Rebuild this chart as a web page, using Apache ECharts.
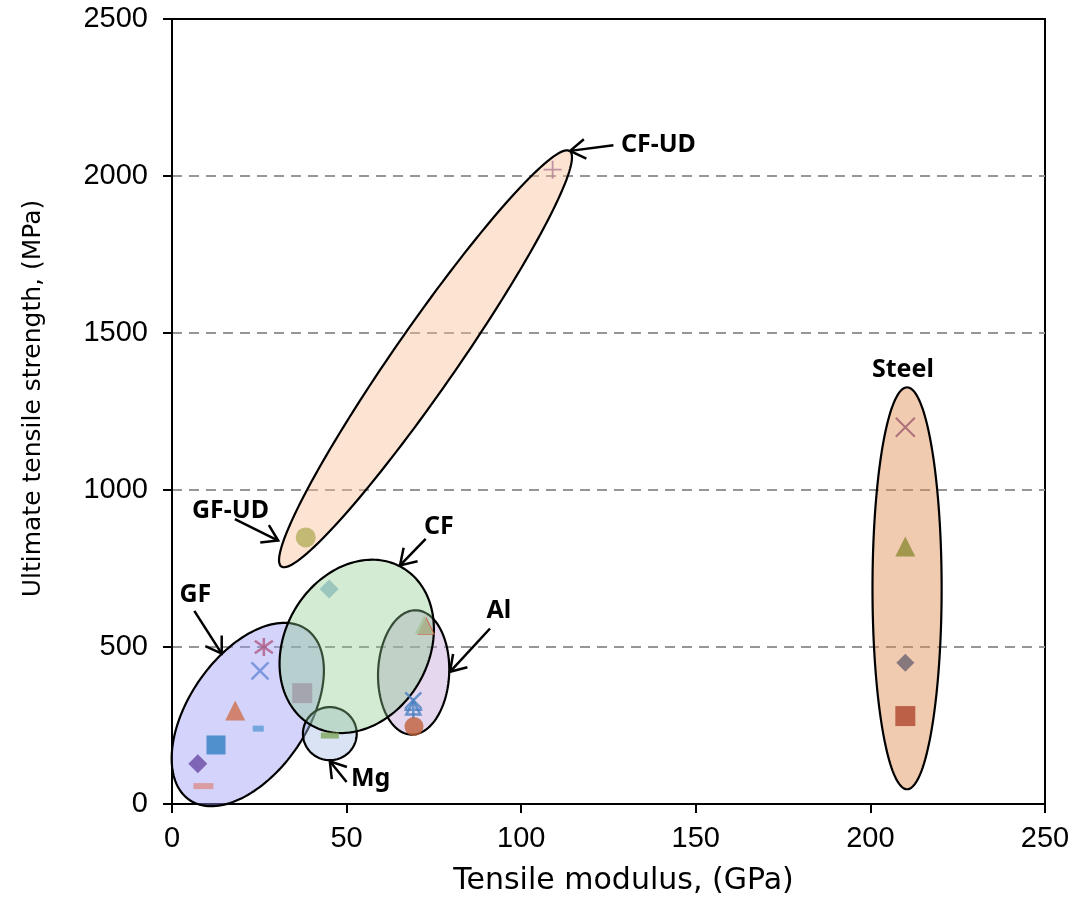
<!DOCTYPE html>
<html><head><meta charset="utf-8">
<script src="https://cdn.jsdelivr.net/npm/echarts@6/dist/echarts.min.js"></script>
<style>html,body{margin:0;padding:0;background:#fff}#c{width:1074px;height:901px}</style>
</head><body><div id="c"></div>
<script>
// ---- axis ticks ----
const xTicks = [0, 50, 100, 150, 200, 250];
const yTicks = [0, 500, 1000, 1500, 2000, 2500];

// ---- material markers (Tensile modulus GPa, UTS MPa) ----
const markerNames = ['GF-1','GF-2','GF-3','GF-4','GF-5','GF-6','GF-7','GF-8',
  'CF-1','Mg-1','Al-red','Al-1','Al-2','Al-3','Al-4','Al-5',
  'Steel-1','Steel-2','Steel-3','Steel-4','CF-UD','GF-UD'];
const markerX = [7.4, 9.0, 12.6, 24.7, 18.1, 25.2, 26.3, 37.3,
  45.0, 45.2, 72.8, 72.2, 69.1, 69.1, 69.1, 69.3,
  210, 210, 210, 210, 109, 38.3];
const markerY = [128, 57, 188, 240, 298, 424, 500, 353,
  685, 218, 568, 572, 330, 307, 300, 247,
  1200, 820, 450, 280, 2020, 849];

// ---- envelope ellipses (data units) ----
const ellipseNames = ['CF-UD','GF','Mg','Al','Steel','CF'];
const ellipseCx  = [72.6, 21.7, 45.2, 69.2, 210.5, 52.9];
const ellipseCy  = [1418, 285, 224, 419, 687, 502];
const ellipseRx  = [41.95, 21.8, 7.7, 10.2, 9.9, 22.1];
const ellipseRy  = [664, 292, 84.5, 198, 640, 276];
const ellipseRho = [0.966, 0.48, 0, 0.05, 0, 0.2];

// ---- annotation labels and arrows (data units) ----
const labelNames = ['CF-UD','Steel','GF-UD','GF','CF','Al','Mg'];
const labelX = [139.3, 209.3, 16.75, 6.67, 76.4, 93.6, 56.9];
const labelY = [2098, 1381, 935, 665, 884, 615, 79];
const arrowFromX = [126.4, 18.0, 6.39, 72.65, 91.07, 50.0];
const arrowFromY = [2098, 907, 615, 844, 559, 70];
const arrowToX   = [114.0, 30.4, 14.23, 65.3, 79.6, 45.2];
const arrowToY   = [2080, 839, 479, 760, 421, 136];

// ---- styles ----
const P_X = 'path://M0,0L10,10M10,0L0,10';
const P_STAR = 'path://M0.5,1.5L9.5,8.5M9.5,1.5L0.5,8.5M5,0L5,10';
const P_PLUS = 'path://M5,0L5,10M0,5L10,5';
const markerStyle = [
  {s:'diamond', c:'#6a4aa5', z:19},
  {s:'rect', c:'#dc8f8c', z:[20,6]},
  {s:'rect', c:'#2f80c2', z:19},
  {s:'rect', c:'#5b9bd5', z:[11,6]},
  {s:'triangle', c:'#d0704c', z:20},
  {s:P_X, c:'#6688d8', z:17, line:2.5},
  {s:P_STAR, c:'#b05a84', z:18, line:2.5},
  {s:'rect', c:'#9f9aa6', z:20},
  {s:'diamond', c:'#8dbdb9', z:19},
  {s:'rect', c:'#7ea55a', z:[18,6]},
  {s:'triangle', c:'#c8563a', z:18},
  {s:'triangle', c:'#a6c39c', z:19},
  {s:P_X, c:'#4a7fc0', z:16, line:2.5},
  {s:'triangle', c:'#4a7fc0', z:14, open:true, line:2.5},
  {s:P_PLUS, c:'#4a7fc0', z:18, line:2.5},
  {s:'circle', c:'#c0603a', z:19},
  {s:P_X, c:'#9e5a6e', z:19, line:2},
  {s:'triangle', c:'#8d8a35', z:20},
  {s:'diamond', c:'#6b6370', z:18},
  {s:'rect', c:'#b0452e', z:20},
  {s:P_PLUS, c:'#b07e96', z:18, line:1.8},
  {s:'circle', c:'#b5ae5c', z:20}
];
const ellipseFills = ['rgba(250,188,148,0.42)','rgba(150,150,245,0.42)','rgba(160,185,225,0.4)',
  'rgba(190,160,215,0.42)','rgba(222,140,80,0.45)','rgba(140,200,140,0.38)'];

const chart = echarts.init(document.getElementById('c'), null, {renderer:'canvas'});

function ellipseItem(params, api) {
  const cx = api.value(0), cy = api.value(1), rx = api.value(2), ry = api.value(3), rho = api.value(4);
  const phi = Math.acos(rho);
  const pts = [];
  const N = 160;
  for (let k = 0; k < N; k++) {
    const t = 2 * Math.PI * k / N;
    pts.push(api.coord([cx + rx * Math.cos(t), cy + ry * Math.cos(t + phi)]));
  }
  return {type:'polygon', shape:{points:pts},
    style:{fill: ellipseFills[params.dataIndex], stroke:'#000', lineWidth:2.2}};
}
function arrowItem(params, api) {
  const p1 = api.coord([api.value(0), api.value(1)]);
  const p2 = api.coord([api.value(2), api.value(3)]);
  const ang = Math.atan2(p2[1] - p1[1], p2[0] - p1[0]);
  const L = 18, a = Math.PI / 5.5;
  const h1 = [p2[0] - L * Math.cos(ang - a), p2[1] - L * Math.sin(ang - a)];
  const h2 = [p2[0] - L * Math.cos(ang + a), p2[1] - L * Math.sin(ang + a)];
  return {type:'group', children:[
    {type:'line', shape:{x1:p1[0], y1:p1[1], x2:p2[0], y2:p2[1]}, style:{stroke:'#000', lineWidth:2.5}},
    {type:'polyline', shape:{points:[h1, p2, h2]}, style:{stroke:'#000', lineWidth:2.5, fill:null}}
  ]};
}
function labelItem(params, api) {
  const p = api.coord([api.value(0), api.value(1)]);
  return {type:'text', x:p[0], y:p[1], style:{text: labelNames[params.dataIndex], fill:'#000',
    fontFamily:'"Noto Sans", "Open Sans", sans-serif', fontWeight:'bold', fontSize:25,
    align:'center', verticalAlign:'middle'}};
}

const series = [];
series.push({type:'custom', name:'envelopes', renderItem: ellipseItem, clip:false, silent:true, z:2,
  data: ellipseNames.map((n, i) => [ellipseCx[i], ellipseCy[i], ellipseRx[i], ellipseRy[i], ellipseRho[i]])});
markerNames.forEach((n, i) => {
  const st = markerStyle[i];
  const isPath = typeof st.s === 'string' && st.s.indexOf('path://') === 0;
  const stroke = isPath || st.open;
  series.push({type:'scatter', name:n, z:3, symbol: st.s, symbolSize: st.z,
    itemStyle: stroke ? {color:'rgba(0,0,0,0)', borderColor: st.c, borderWidth: st.line || 2}
                      : {color: st.c, borderWidth:0},
    data: [[markerX[i], markerY[i]]]});
});
series.push({type:'custom', name:'arrows', renderItem: arrowItem, clip:false, silent:true, z:4,
  data: arrowFromX.map((v, i) => [arrowFromX[i], arrowFromY[i], arrowToX[i], arrowToY[i]])});
series.push({type:'custom', name:'labels', renderItem: labelItem, clip:false, silent:true, z:5,
  data: labelNames.map((n, i) => [labelX[i], labelY[i]])});

chart.setOption({
  animation:false,
  backgroundColor:'#fff',
  grid:{left:172, right:29, top:19, bottom:93, show:true, borderColor:'#000', borderWidth:2, backgroundColor:'rgba(0,0,0,0)'},
  xAxis:{type:'value', min:xTicks[0], max:xTicks[xTicks.length-1], interval:xTicks[1]-xTicks[0],
    name:'Tensile modulus, (GPa)', nameLocation:'middle', nameGap:62,
    nameTextStyle:{fontFamily:'"DejaVu Sans"', fontSize:30, color:'#000', padding:[0,0,0,30]},
    axisLine:{show:true, onZero:false, lineStyle:{color:'#000', width:2}},
    axisTick:{show:true, inside:false, length:9, lineStyle:{color:'#000', width:2}},
    axisLabel:{fontFamily:'"Liberation Sans", Arial', fontSize:29, color:'#000', margin:20,
      formatter: v => xTicks.indexOf(v) >= 0 ? String(v) : ''},
    splitLine:{show:false}},
  yAxis:{type:'value', min:yTicks[0], max:yTicks[yTicks.length-1], interval:yTicks[1]-yTicks[0],
    name:'Ultimate tensile strength, (MPa)', nameLocation:'middle', nameGap:126,
    nameTextStyle:{fontFamily:'"DejaVu Sans"', fontSize:25, color:'#000', padding:[0,0,0,26]},
    axisLine:{show:true, onZero:false, lineStyle:{color:'#000', width:2}},
    axisTick:{show:true, inside:false, length:9, lineStyle:{color:'#000', width:2}},
    axisLabel:{fontFamily:'"Liberation Sans", Arial', fontSize:29, color:'#000', margin:24,
      formatter: v => yTicks.indexOf(v) >= 0 ? String(v) : ''},
    splitLine:{show:true, showMinLine:false, showMaxLine:false,
      lineStyle:{color:'#969696', width:2, type:[10,7]}}},
  series: series
});
</script></body></html>
